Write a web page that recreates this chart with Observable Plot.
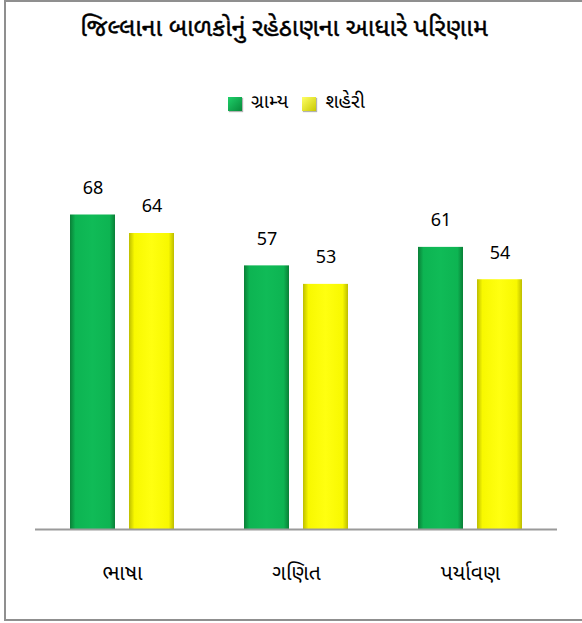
<!DOCTYPE html>
<html>
<head>
<meta charset="utf-8">
<script src="https://cdn.jsdelivr.net/npm/d3@7"></script>
<script src="https://cdn.jsdelivr.net/npm/@observablehq/plot@0.6"></script>
<style>
  html, body { margin: 0; padding: 0; background: #fff; }
  body { width: 582px; height: 623px; position: relative; overflow: hidden;
         font-family: "Noto Sans Gujarati", "Noto Sans", "Open Sans", sans-serif; color: #000; }
  #frame { position: absolute; left: 4px; top: 0; width: 590px; height: 617px;
           border-left: 2px solid #8f8f8f; border-top: 2px solid #8f8f8f; border-bottom: 2px solid #8f8f8f; }
  #title { position: absolute; top: 14px; left: 0; width: 568px; text-align: center;
           font-size: 25px; font-weight: normal; -webkit-text-stroke: 0.45px #000; }
  #legend { position: absolute; top: 91px; left: 228px; display: flex; align-items: center; font-size: 19.5px; }
  .sw { display: inline-block; width: 14px; height: 14px; margin-right: 9px; box-shadow: 1px 1px 1px rgba(0,0,0,0.3); }
  .item { display: flex; align-items: center; margin-right: 14px; }
  #chart { position: absolute; top: 130px; left: 0; }
</style>
</head>
<body>
<div id="frame"></div>
<div id="title">જિલ્લાના બાળકોનું રહેઠાણના આધારે પરિણામ</div>
<div id="legend"></div>
<div id="chart"></div>
<script>
const categories = ["ભાષા", "ગણિત", "પર્યાવણ"];
const seriesNames = ["ગ્રામ્ય", "શહેરી"];
const ruralValues = [68, 57, 61];
const urbanValues = [64, 53, 54];

const data = [];
categories.forEach((c, i) => {
  data.push({category: c, series: seriesNames[0], value: ruralValues[i]});
  data.push({category: c, series: seriesNames[1], value: urbanValues[i]});
});

// legend
const legend = document.getElementById("legend");
seriesNames.forEach((s, i) => {
  const item = document.createElement("span");
  item.className = "item";
  const sw = document.createElement("span");
  sw.className = "sw";
  sw.style.background = i === 0
    ? "linear-gradient(135deg, #1fd06a, #07893a)"
    : "linear-gradient(135deg, #ffff66, #c9c900)";
  item.appendChild(sw);
  item.appendChild(document.createTextNode(s));
  legend.appendChild(item);
});

const plot = Plot.plot({
  width: 582,
  height: 470,
  marginLeft: 35,
  marginRight: 25,
  marginTop: 29,
  marginBottom: 71,
  style: {fontFamily: '"Noto Sans Gujarati", "Noto Sans", "Open Sans", sans-serif', fontSize: "21px", color: "#000"},
  fx: {domain: categories, paddingInner: 0, paddingOuter: 0, label: null, tickSize: 0, tickPadding: 36},
  x: {domain: seriesNames, paddingInner: 0.233, paddingOuter: 0.567, axis: null},
  y: {domain: [0, 80], axis: null},
  color: {domain: seriesNames, range: ["url(#gradG)", "url(#gradY)"]},
  marks: [
    Plot.barY(data, {fx: "category", x: "series", y: "value", fill: "series", style: "filter: url(#shadow)"}),
    Plot.text(data, {fx: "category", x: "series", y: "value", text: d => String(d.value), dy: -27, fontSize: 18, fill: "#000"}),
    Plot.ruleY([0], {stroke: "#9a9a9a", strokeWidth: 2})
  ]
});

// gradients and shadow
const svg = d3.select(plot);
const defs = svg.insert("defs", ":first-child");
function grad(id, edge, mid, light) {
  const g = defs.append("linearGradient").attr("id", id).attr("x1", "0").attr("x2", "1").attr("y1", "0").attr("y2", "0");
  g.append("stop").attr("offset", "0%").attr("stop-color", edge);
  g.append("stop").attr("offset", "12%").attr("stop-color", mid);
  g.append("stop").attr("offset", "50%").attr("stop-color", light);
  g.append("stop").attr("offset", "88%").attr("stop-color", mid);
  g.append("stop").attr("offset", "100%").attr("stop-color", edge);
}
grad("gradG", "#0a7f37", "#0db452", "#10bb57");
grad("gradY", "#bdbd00", "#f8f800", "#ffff10");
const f = defs.append("filter").attr("id", "shadow").attr("x", "-20%").attr("y", "-5%").attr("width", "150%").attr("height", "110%");
f.append("feDropShadow").attr("dx", 2).attr("dy", 0).attr("stdDeviation", 1.5).attr("flood-color", "#000").attr("flood-opacity", 0.35);

document.getElementById("chart").appendChild(plot);
</script>
</body>
</html>
